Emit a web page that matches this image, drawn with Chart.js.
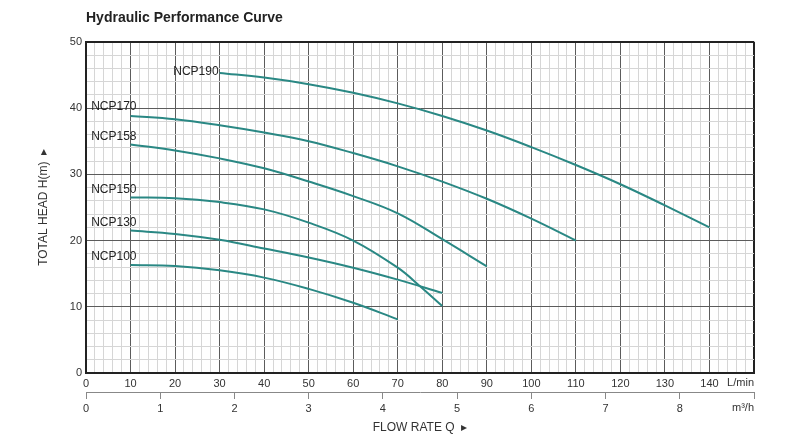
<!DOCTYPE html>
<html>
<head>
<meta charset="utf-8">
<script src="https://cdn.jsdelivr.net/npm/chart.js@4"></script>
<style>
  html, body { margin: 0; padding: 0; background: #fff; }
</style>
</head>
<body>
<canvas id="chart" width="800" height="444"></canvas>
<script>
// flow in L/min, head in m
const ncp190Flow = [30, 40, 50, 60, 70, 80, 90, 100, 110, 120, 130, 140];
const ncp190Head = [45.3, 44.6, 43.6, 42.3, 40.7, 38.8, 36.6, 34.1, 31.4, 28.5, 25.3, 22.0];

const ncp170Flow = [10, 20, 30, 40, 50, 60, 70, 80, 90, 100, 110];
const ncp170Head = [38.8, 38.3, 37.4, 36.3, 35.0, 33.2, 31.2, 28.9, 26.3, 23.3, 20.0];

const ncp158Flow = [10, 20, 30, 40, 50, 60, 70, 80, 90];
const ncp158Head = [34.5, 33.6, 32.4, 30.9, 28.9, 26.7, 24.1, 20.2, 16.1];

const ncp150Flow = [10, 20, 30, 40, 50, 60, 70, 75, 80];
const ncp150Head = [26.5, 26.4, 25.8, 24.7, 22.7, 20.0, 15.9, 13.1, 10.1];

const ncp130Flow = [10, 20, 30, 40, 50, 60, 70, 80];
const ncp130Head = [21.5, 21.0, 20.1, 18.8, 17.45, 15.9, 14.1, 12.1];

const ncp100Flow = [10, 20, 30, 40, 50, 60, 70];
const ncp100Head = [16.3, 16.15, 15.5, 14.4, 12.7, 10.6, 8.1];

const seriesNames = ['NCP190', 'NCP170', 'NCP158', 'NCP150', 'NCP130', 'NCP100'];

// axis ticks
const flowMax = 150;          // L/min
const flowLabelMax = 140;
const headMax = 50;
const m3hPerLmin = 0.06;      // 1 L/min = 0.06 m3/h
const m3hLabelMax = 8;

const FONT = '"Liberation Sans", Arial, Helvetica, sans-serif';
const LINE = '#2a8884';

const toPoints = (xs, ys) => xs.map((x, i) => ({ x: x, y: ys[i] }));

const curves = [
  { flow: ncp190Flow, head: ncp190Head, dx: -1, dy: -1 },
  { flow: ncp170Flow, head: ncp170Head, dx: 6, dy: -9 },
  { flow: ncp158Flow, head: ncp158Head, dx: 6, dy: -8 },
  { flow: ncp150Flow, head: ncp150Head, dx: 6, dy: -8 },
  { flow: ncp130Flow, head: ncp130Head, dx: 6, dy: -8 },
  { flow: ncp100Flow, head: ncp100Head, dx: 6, dy: -8 }
];

const datasets = curves.map((c, i) => ({
  label: seriesNames[i],
  data: toPoints(c.flow, c.head),
  borderColor: LINE,
  borderWidth: 2,
  pointRadius: 0,
  tension: 0.4,
  labelDx: c.dx,
  labelDy: c.dy
}));

// model names next to the start of each curve
const curveLabels = {
  id: 'curveLabels',
  afterDatasetsDraw(chart) {
    const ctx = chart.ctx;
    ctx.save();
    ctx.font = '12px ' + FONT;
    ctx.fillStyle = '#222';
    ctx.textAlign = 'right';
    ctx.textBaseline = 'middle';
    chart.data.datasets.forEach((ds, i) => {
      const first = chart.getDatasetMeta(i).data[0];
      ctx.fillText(ds.label, first.x + ds.labelDx, first.y + ds.labelDy);
    });
    ctx.restore();
  }
};

// unit captions at the right end of both flow axes
const unitLabels = {
  id: 'unitLabels',
  afterDraw(chart) {
    const ctx = chart.ctx;
    const x = chart.scales.x, x2 = chart.scales.x2;
    ctx.save();
    ctx.font = '11px ' + FONT;
    ctx.fillStyle = '#333';
    ctx.textAlign = 'right';
    ctx.textBaseline = 'middle';
    ctx.fillText('L/min', chart.chartArea.right, x.top + 10);
    ctx.fillText('m³/h', chart.chartArea.right, x2.top + 16);
    ctx.restore();
  }
};

new Chart(document.getElementById('chart'), {
  type: 'line',
  data: { datasets: datasets },
  plugins: [curveLabels, unitLabels],
  options: {
    responsive: false,
    animation: false,
    layout: { padding: { left: 0, right: 46, top: 0, bottom: 0 } },
    plugins: {
      legend: { display: false },
      tooltip: { enabled: false },
      title: {
        display: true,
        text: 'Hydraulic Performance Curve',
        align: 'start',
        fullSize: false,
        color: '#222',
        font: { family: FONT, size: 14, weight: 'bold' },
        padding: { top: 10, bottom: 15 }
      }
    },
    scales: {
      x: {
        type: 'linear',
        position: 'bottom',
        min: 0,
        max: flowMax,
        afterFit(scale) { scale.height = 19; },
        ticks: {
          stepSize: 2,
          autoSkip: false,
          maxRotation: 0,
          maxTicksLimit: 1000,
          padding: 4,
          color: '#333',
          font: { family: FONT, size: 11 },
          callback: v => (v % 10 === 0 && v <= flowLabelMax) ? String(v) : ''
        },
        grid: {
          drawTicks: false,
          color: c => c.tick.value === flowMax ? '#222' : (c.tick.value % 10 === 0 ? '#5c5c5c' : '#d6d6d6'),
          lineWidth: c => c.tick.value === flowMax ? 2 : 1
        },
        border: { color: '#222', width: 2 }
      },
      x2: {
        type: 'linear',
        position: 'bottom',
        min: 0,
        max: flowMax * m3hPerLmin,
        afterFit(scale) { scale.height = 52; },
        ticks: {
          stepSize: 1,
          autoSkip: false,
          maxRotation: 0,
          padding: 3,
          color: '#333',
          font: { family: FONT, size: 11 },
          callback: v => v <= m3hLabelMax ? String(v) : ''
        },
        grid: {
          drawOnChartArea: false,
          drawTicks: true,
          tickLength: 7,
          color: '#888'
        },
        border: { color: '#888', width: 1 },
        title: {
          display: true,
          text: 'FLOW RATE Q  ▸',
          color: '#333',
          font: { family: FONT, size: 12 },
          padding: { top: 4, bottom: 9 }
        }
      },
      y: {
        type: 'linear',
        min: 0,
        max: headMax,
        afterFit(scale) { scale.width = 86; },
        ticks: {
          stepSize: 2,
          autoSkip: false,
          maxTicksLimit: 1000,
          padding: 4,
          color: '#333',
          font: { family: FONT, size: 11 },
          callback: v => v % 10 === 0 ? String(v) : ''
        },
        grid: {
          drawTicks: false,
          color: c => c.tick.value === headMax ? '#222' : (c.tick.value % 10 === 0 ? '#5c5c5c' : '#d6d6d6'),
          lineWidth: c => c.tick.value === headMax ? 2 : 1
        },
        border: { color: '#222', width: 2 },
        title: {
          display: true,
          text: 'TOTAL HEAD H(m)  ▸',
          color: '#333',
          font: { family: FONT, size: 12 },
          padding: { top: 36, bottom: 0 }
        }
      }
    }
  }
});
</script>
</body>
</html>
